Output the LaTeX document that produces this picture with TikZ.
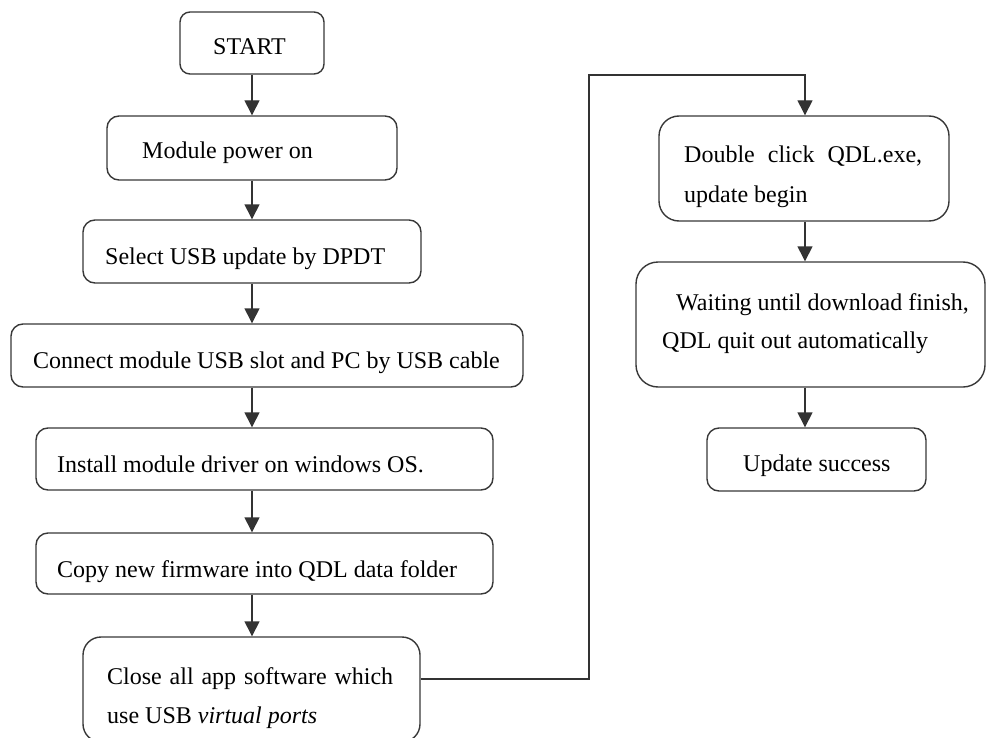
\documentclass[tikz,border=0pt]{standalone}
\usepackage{fontspec}
\setmainfont{Liberation Serif}
\usetikzlibrary{arrows.meta}
\begin{document}
\begin{tikzpicture}[x=1pt,y=1pt,
  box/.style={draw=black!78, line width=1.4pt, rounded corners=#1, inner sep=0pt},
  box/.default=12pt,
  txt/.style={anchor=base west, inner sep=0pt, font=\fontsize{24}{28}\selectfont},
  arr/.style={draw=black!80, line width=1.4pt, -{Triangle[width=15pt,length=15pt]}},
  ln/.style={draw=black!80, line width=1.4pt}]
\useasboundingbox (0,0) rectangle (987,-738);
% left column boxes
\node[box=10pt, minimum width=144pt, minimum height=62pt] (start) at (252,-43) {};
\node[box, minimum width=290pt, minimum height=64pt] (mod) at (252,-148) {};
\node[box, minimum width=338pt, minimum height=63pt] (sel) at (252,-251.5) {};
\node[box, minimum width=512pt, minimum height=63pt] (con) at (267,-355.5) {};
\node[box, minimum width=457pt, minimum height=62pt] (ins) at (264.5,-459) {};
\node[box, minimum width=457pt, minimum height=61pt] (cpy) at (264.5,-563.5) {};
\node[box=18pt, minimum width=337pt, minimum height=105pt] (cls) at (251.5,-689.5) {};
% right column boxes
\node[box=20pt, minimum width=290pt, minimum height=105pt] (dbl) at (804,-168.5) {};
\node[box=22pt, minimum width=349pt, minimum height=125pt] (wat) at (810.5,-324.5) {};
\node[box, minimum width=219pt, minimum height=63pt] (suc) at (816.5,-459.5) {};
% texts
\node[txt] (t1) at (213,-55) {START};
\node[txt] (t2) at (142,-159) {Module power on};
\node[txt] (t3) at (105,-264) {Select USB update by DPDT};
\node[txt] (t4) at (33,-368) {Connect module USB slot and PC by USB cable};
\node[txt] (t5) at (57,-472) {Install module driver on windows OS.};
\node[txt] (t6) at (57,-577) {Copy new firmware into QDL data folder};
\node[txt] (t7a) at (107,-684) {\makebox[286pt][s]{Close all app software which}};
\node[txt] (t7b) at (107,-723) {use USB \textit{virtual ports}};
\node[txt] (t8a) at (684,-163) {\makebox[238pt][s]{Double click QDL.exe,}};
\node[txt] (t8b) at (684,-203) {update begin};
\node[txt] (t9a) at (676,-310) {Waiting until download finish,};
\node[txt] (t9b) at (662,-348) {QDL quit out automatically};
\node[txt] (t10) at (743,-471) {Update success};
% connectors
\draw[arr] (start.south) -- (start.south |- mod.north);
\draw[arr] (mod.south) -- (mod.south |- sel.north);
\draw[arr] (sel.south) -- (sel.south |- con.north);
\draw[arr] (sel.south |- con.south) -- (sel.south |- ins.north);
\draw[arr] (sel.south |- ins.south) -- (sel.south |- cpy.north);
\draw[arr] (sel.south |- cpy.south) -- (sel.south |- cls.north);
\coordinate (up) at (589,-75);
\draw[arr] ([yshift=10.5pt]cls.east) -| (up) -| ([xshift=1pt]dbl.north);
\draw[arr] ([xshift=1pt]dbl.south) -- ([xshift=1pt]dbl.south |- wat.north);
\draw[arr] ([xshift=1pt]dbl.south |- wat.south) -- ([xshift=1pt]dbl.south |- suc.north);
\end{tikzpicture}
\end{document}
